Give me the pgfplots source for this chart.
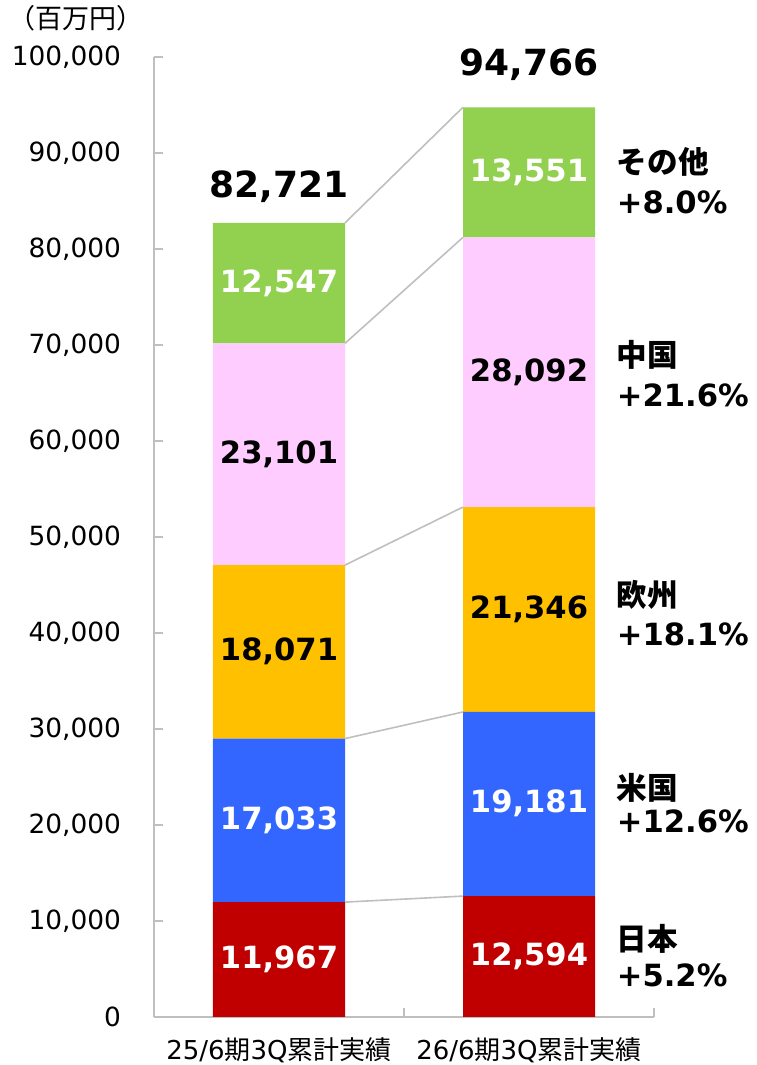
\documentclass[border=0pt]{standalone}
\usepackage{fontspec}
\setmainfont{DejaVu Sans}
\newfontfamily\cjk{Noto Sans CJK JP}
\usepackage{pgfplots}
\pgfplotsset{compat=1.18}
\definecolor{cJP}{HTML}{C00000}
\definecolor{cUS}{HTML}{3366FF}
\definecolor{cEU}{HTML}{FFC000}
\definecolor{cCN}{HTML}{FFCCFF}
\definecolor{cOT}{HTML}{92D050}
\definecolor{axisgray}{HTML}{BFBFBF}
\definecolor{linegray}{HTML}{BFBFBF}
\begin{document}
\begin{tikzpicture}
\path[use as bounding box] (-77pt,-24pt) rectangle (301pt,508.5pt);
\begin{axis}[at={(0,0)}, anchor=south west, scale only axis,
  width=250pt, height=480pt,
  xmin=-0.5, xmax=1.5, ymin=0, ymax=100000,
  ybar stacked, bar width=66pt,
  axis x line*=bottom, axis y line*=left,
  axis line style={draw=axisgray, line width=0.8pt, -},
  tick align=inside, major tick length=4.5pt,
  tick style={draw=axisgray, line width=0.8pt},
  ytick={0,10000,...,100000},
  scaled y ticks=false,
  /pgf/number format/assume math mode=true,
  /pgf/number format/fixed,
  /pgf/number format/1000 sep={,},
  yticklabel style={font=\fontsize{13.2}{15}\selectfont, xshift=-13pt},
  xtick={-0.5,0.5,1.5}, xticklabels={},
  extra x ticks={0,1},
  extra x tick labels={{25/6{\cjk 期}3Q{\cjk 累計実績}},{26/6{\cjk 期}3Q{\cjk 累計実績}}},
  extra x tick style={major tick length=0pt, xticklabel style={font=\fontsize{13}{15}\selectfont, yshift=-7pt}},
  clip=false,
]
\addplot[fill=cJP, draw=none] coordinates {(0,11967) (1,12594)};
\addplot[fill=cUS, draw=none] coordinates {(0,17033) (1,19181)};
\addplot[fill=cEU, draw=none] coordinates {(0,18071) (1,21346)};
\addplot[fill=cCN, draw=none] coordinates {(0,23101) (1,28092)};
\addplot[fill=cOT, draw=none] coordinates {(0,12547) (1,13551)};
\end{axis}
\begin{axis}[at={(0,0)}, anchor=south west, scale only axis,
  width=250pt, height=480pt,
  xmin=-0.5, xmax=1.5, ymin=0, ymax=100000,
  hide axis, clip=false]
\addplot[linegray, line width=0.8pt] coordinates {(0.264,11967) (0.736,12594)};
\addplot[linegray, line width=0.8pt] coordinates {(0.264,29000) (0.736,31775)};
\addplot[linegray, line width=0.8pt] coordinates {(0.264,47071) (0.736,53121)};
\addplot[linegray, line width=0.8pt] coordinates {(0.264,70172) (0.736,81213)};
\addplot[linegray, line width=0.8pt] coordinates {(0.264,82719) (0.736,94764)};
% segment value labels
\tikzset{vl/.style={font=\fontsize{15.3}{17}\selectfont\bfseries, text height=0.73em, text depth=0pt, inner sep=0pt, anchor=center, yshift=-0.8pt}}
\node[vl, white] at (axis cs:0,5983.5) {11,967};
\node[vl, white] at (axis cs:0,20483.5) {17,033};
\node[vl, black] at (axis cs:0,38035.5) {18,071};
\node[vl, black] at (axis cs:0,58621.5) {23,101};
\node[vl, white] at (axis cs:0,76445.5) {12,547};
\node[vl, white] at (axis cs:1,6297) {12,594};
\node[vl, white] at (axis cs:1,22184.5) {19,181};
\node[vl, black] at (axis cs:1,42448) {21,346};
\node[vl, black] at (axis cs:1,67167) {28,092};
\node[vl, white] at (axis cs:1,87988.5) {13,551};
% totals
\node[font=\fontsize{18}{20}\selectfont\bfseries, anchor=base, inner sep=0pt] at (axis cs:0,85312) {82,721};
\node[font=\fontsize{18}{20}\selectfont\bfseries, anchor=base, inner sep=0pt] at (axis cs:1,98021) {94,766};
% right labels
\tikzset{rl/.style={font=\fontsize{15.3}{17}\selectfont\bfseries, inner sep=0pt, anchor=base west, yshift=-5.7pt}}
\node[rl] at (axis cs:1.35,89010) {\cjk\bfseries その他};
\node[rl] at (axis cs:1.35,84844) {+8.0\%};
\node[rl] at (axis cs:1.35,68958) {\cjk\bfseries 中国};
\node[rl] at (axis cs:1.35,64792) {+21.6\%};
\node[rl] at (axis cs:1.35,43958) {\cjk\bfseries 欧州};
\node[rl] at (axis cs:1.35,39896) {+18.1\%};
\node[rl] at (axis cs:1.35,23802) {\cjk\bfseries 米国};
\node[rl] at (axis cs:1.35,20365) {+12.6\%};
\node[rl] at (axis cs:1.35,8073) {\cjk\bfseries 日本};
\node[rl] at (axis cs:1.35,4323) {+5.2\%};
\end{axis}
\node[font=\cjk\fontsize{13.5}{15}\selectfont, anchor=center] at (-39pt,499.5pt) {（百万円）};
\end{tikzpicture}
\end{document}
